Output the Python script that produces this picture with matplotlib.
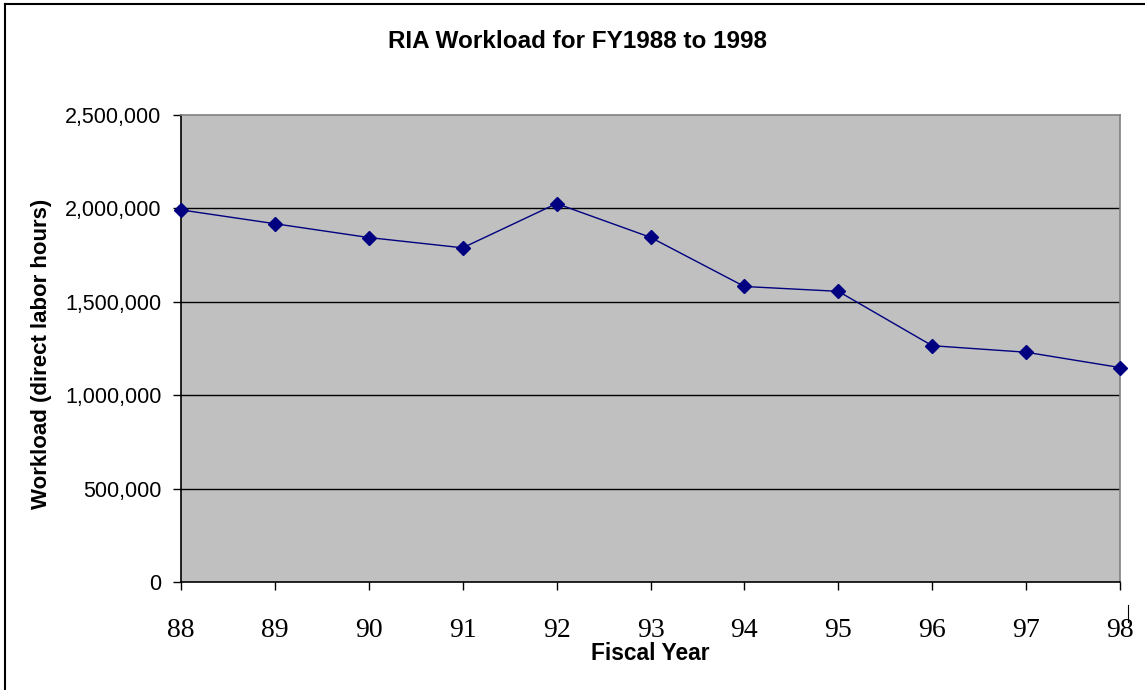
import matplotlib

matplotlib.use("Agg")

import matplotlib.pyplot as plt
from matplotlib.lines import Line2D
from matplotlib.ticker import FuncFormatter

# fiscal years (two-digit) and workload in direct labor hours
years = [88, 89, 90, 91, 92, 93, 94, 95, 96, 97, 98]
workload = [1992000, 1918000, 1844000, 1789000, 2026000, 1845000,
            1582000, 1556000, 1265000, 1230000, 1148000]
y_ticks = [0, 500000, 1000000, 1500000, 2000000, 2500000]

title = "RIA Workload for FY1988 to 1998"
x_label = "Fiscal Year"
y_label = "Workload (direct labor hours)"

fig = plt.figure(figsize=(11.45, 6.9), dpi=100)
ax = fig.add_axes([181 / 1145, 1 - 582 / 690, (1120 - 181) / 1145, (582 - 115) / 690])
ax.set_facecolor("#c0c0c0")

for v in y_ticks[1:-1]:
    ax.axhline(v, color="black", lw=1.0, zorder=1)

ax.plot(years, workload, color="#000080", lw=1.0, marker="D", ms=7.5,
        markeredgecolor="#000080", markerfacecolor="#000080", zorder=3,
        clip_on=False)

ax.set_xlim(years[0], years[-1])
ax.set_ylim(y_ticks[0], y_ticks[-1])
ax.set_xticks(years)
ax.set_xticklabels([str(y) for y in years], fontfamily="Liberation Serif", fontsize=20)
ax.set_yticks(y_ticks)
ax.yaxis.set_major_formatter(FuncFormatter(lambda v, p: f"{int(v):,}"))
for lab in ax.get_yticklabels():
    lab.set_fontfamily("Liberation Sans")
    lab.set_fontsize(15.5)

ax.tick_params(axis="x", direction="out", length=6, width=1, pad=20, colors="black")
ax.tick_params(axis="y", direction="out", length=6, width=1, pad=8, colors="black")

ax.spines["left"].set_color("black")
ax.spines["bottom"].set_color("black")
ax.spines["top"].set_color("#808080")
ax.spines["right"].set_color("#808080")
for s in ax.spines.values():
    s.set_linewidth(1.2)

fig.text(578 / 1145, 1 - 42 / 690, title, ha="center", va="center",
         fontfamily="Liberation Sans", fontweight="bold", fontsize=17.5)
fig.text(650 / 1145, 1 - 653 / 690, x_label, ha="center", va="center",
         fontfamily="Liberation Sans", fontweight="bold", fontsize=16.4)
fig.text(42 / 1145, 1 - 354 / 690, y_label, ha="center", va="center", rotation=90,
         fontfamily="Liberation Sans", fontweight="bold", fontsize=16)

# outer chart border (left and top only visible) and stray mark near 98
fig.add_artist(Line2D([4.5 / 1145, 4.5 / 1145], [0, 1 - 3.5 / 690], color="black", lw=1.5))
fig.add_artist(Line2D([4.5 / 1145, 1], [1 - 3.5 / 690, 1 - 3.5 / 690], color="black", lw=1.5))
fig.add_artist(Line2D([1128 / 1145, 1128 / 1145], [1 - 605 / 690, 1 - 622 / 690], color="black", lw=0.8))

fig.savefig("out.png", dpi=100)
